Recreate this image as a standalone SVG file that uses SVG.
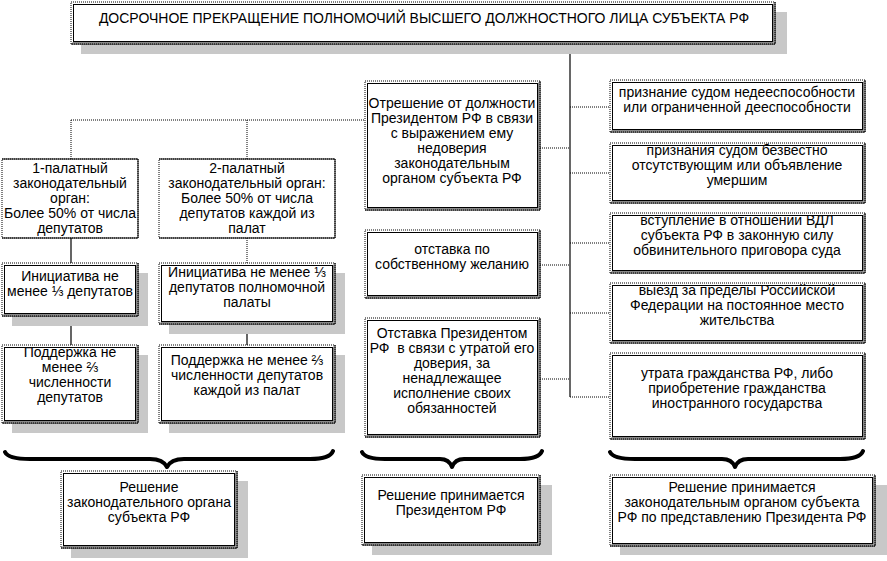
<svg xmlns="http://www.w3.org/2000/svg" width="887" height="561" viewBox="0 0 887 561">
<style>
text{font-family:"Liberation Sans",Arial,sans-serif;font-size:14px;fill:#000;text-anchor:middle}
.sh{fill:#c8c8c8}
.bo{fill:#fff;stroke:#000;stroke-width:1;stroke-dasharray:1 1}
.bi{fill:none;stroke:#000;stroke-width:1}
.rb{fill:none;stroke:#000;stroke-width:1}
.rg{fill:none;stroke:#888;stroke-width:1}
.dot{fill:none;stroke:#000;stroke-width:1;stroke-dasharray:1 1}
.sol{fill:none;stroke:#000;stroke-width:1.2}
.brace{fill:none;stroke:#000;stroke-width:4;stroke-linecap:round;stroke-linejoin:round}
</style>
<rect width="887" height="561" fill="#fff"/>

<g id="connectors">
<path class="sol" d="M570,44V397"/>
<path class="dot" d="M570,107H610M570,173H610M570,243H610M570,313H610M570,397H610"/>
<path class="dot" d="M540,148H570M540,265H570M540,379H570"/>
<path class="dot" d="M71,120H365M71,120V159M247,120V159"/>
<path class="sol" d="M71,238V263M71,316V345M247,324V345"/>
<path class="dot" d="M247,238V263"/>
</g>

<g id="braces">
<path class="brace" d="M5,452Q8,459 30,459L150,459Q163,459 167,467Q171,459 184,459L310,459Q330,459 333,451"/>
<path class="brace" d="M362,452Q365,459 385,459L440,459Q449,459 452,467Q455,459 464,459L520,459Q539,459 542,451"/>
<path class="brace" d="M610,452Q613,459 635,459L722,459Q732,459 735,467Q738,459 748,459L840,459Q860,459 863,451"/>
</g>

<g id="title">
<rect class="sh" x="81" y="12" width="706" height="42"/>
<rect class="bo" x="71" y="2" width="704" height="42"/>
<path class="rb" d="M775,2V44H71"/>
<path class="rg" d="M773.5,3.5V42.5H72.5"/>
<rect class="bi" x="73.5" y="4.5" width="699" height="37"/>
<text x="424" y="23">ДОСРОЧНОЕ ПРЕКРАЩЕНИЕ ПОЛНОМОЧИЙ ВЫСШЕГО ДОЛЖНОСТНОГО ЛИЦА СУБЪЕКТА РФ</text>
</g>

<g id="one-chamber">
<rect class="bo" x="2" y="159" width="136" height="79"/>
<path class="rb" d="M2,159H138V238H2"/>
<text x="70" y="173">1-палатный</text>
<text x="70" y="188">законодательный</text>
<text x="70" y="203">орган:</text>
<text x="70" y="218">Более 50% от числа</text>
<text x="70" y="233">депутатов</text>
</g>

<g id="two-chamber">
<rect class="bo" x="159" y="159" width="176" height="79"/>
<path class="rb" d="M159,159H335V238H159"/>
<text x="247" y="173">2-палатный</text>
<text x="247" y="188">законодательный орган:</text>
<text x="247" y="203">Более 50% от числа</text>
<text x="247" y="218">депутатов каждой из</text>
<text x="247" y="233">палат</text>
</g>

<g id="initiative-1">
<rect class="sh" x="12" y="273" width="136" height="53"/>
<rect class="bo" x="2" y="263" width="136" height="53"/>
<path class="rb" d="M138,263V316H2"/>
<path class="rg" d="M136.5,264.5V314.5H3.5"/>
<rect class="bi" x="4.5" y="265.5" width="131" height="48"/>
<text x="70" y="281">Инициатива не</text>
<text x="70" y="296">менее ⅓ депутатов</text>
</g>

<g id="initiative-2">
<rect class="sh" x="169" y="273" width="176" height="61"/>
<rect class="bo" x="159" y="263" width="176" height="61"/>
<path class="rb" d="M335,263V324H159"/>
<path class="rg" d="M333.5,264.5V322.5H160.5"/>
<rect class="bi" x="161.5" y="265.5" width="171" height="56"/>
<text x="247" y="277">Инициатива не менее ⅓</text>
<text x="247" y="292">депутатов полномочной</text>
<text x="247" y="307">палаты</text>
</g>

<g id="support-1">
<rect class="sh" x="12" y="355" width="136" height="78"/>
<rect class="bo" x="2" y="345" width="136" height="78"/>
<path class="rb" d="M138,345V423H2"/>
<path class="rg" d="M136.5,346.5V421.5H3.5"/>
<rect class="bi" x="4.5" y="347.5" width="131" height="73"/>
<text x="70" y="357">Поддержка не</text>
<text x="70" y="372">менее ⅔</text>
<text x="70" y="387">численности</text>
<text x="70" y="402">депутатов</text>
</g>

<g id="support-2">
<rect class="sh" x="169" y="355" width="176" height="78"/>
<rect class="bo" x="159" y="345" width="176" height="78"/>
<path class="rb" d="M335,345V423H159"/>
<path class="rg" d="M333.5,346.5V421.5H160.5"/>
<rect class="bi" x="161.5" y="347.5" width="171" height="73"/>
<text x="247" y="365">Поддержка не менее ⅔</text>
<text x="247" y="380">численности депутатов</text>
<text x="247" y="395">каждой из палат</text>
</g>

<g id="removal">
<rect class="bo" x="365" y="81" width="175" height="129"/>
<path class="rb" d="M540,81V210H365"/>
<path class="rg" d="M538.5,82.5V208.5H366.5"/>
<rect class="bi" x="367.5" y="83.5" width="170" height="124"/>
<text x="452" y="108">Отрешение от должности</text>
<text x="452" y="123">Президентом РФ в связи</text>
<text x="452" y="138">с выражением ему</text>
<text x="452" y="153">недоверия</text>
<text x="452" y="168">законодательным</text>
<text x="452" y="183">органом субъекта РФ</text>
</g>

<g id="resignation">
<rect class="bo" x="365" y="230" width="175" height="68"/>
<path class="rb" d="M540,230V298H365"/>
<path class="rg" d="M538.5,231.5V296.5H366.5"/>
<rect class="bi" x="367.5" y="232.5" width="170" height="63"/>
<text x="452" y="254">отставка по</text>
<text x="452" y="269">собственному желанию</text>
</g>

<g id="dismissal">
<rect class="bo" x="365" y="318" width="175" height="119"/>
<path class="rb" d="M540,318V437H365"/>
<path class="rg" d="M538.5,319.5V435.5H366.5"/>
<rect class="bi" x="367.5" y="320.5" width="170" height="114"/>
<text x="452" y="338">Отставка Президентом</text>
<text x="452" y="353" xml:space="preserve">РФ  в связи с утратой его</text>
<text x="452" y="368">доверия, за</text>
<text x="452" y="383">ненадлежащее</text>
<text x="452" y="398">исполнение своих</text>
<text x="452" y="413">обязанностей</text>
</g>

<g id="incapacity">
<rect class="bo" x="610" y="80" width="255" height="52"/>
<path class="rb" d="M865,80V132H610"/>
<path class="rg" d="M863.5,81.5V130.5H611.5"/>
<rect class="bi" x="612.5" y="82.5" width="250" height="47"/>
<text x="737" y="97">признание судом недееспособности</text>
<text x="737" y="112">или ограниченной дееспособности</text>
</g>

<g id="missing">
<rect class="bo" x="610" y="143" width="255" height="60"/>
<path class="rb" d="M865,143V203H610"/>
<path class="rg" d="M863.5,144.5V201.5H611.5"/>
<rect class="bi" x="612.5" y="145.5" width="250" height="55"/>
<text x="737" y="155">признания судом безвестно</text>
<text x="737" y="170">отсутствующим или объявление</text>
<text x="737" y="185">умершим</text>
</g>

<g id="conviction">
<rect class="bo" x="610" y="213" width="255" height="60"/>
<path class="rb" d="M865,213V273H610"/>
<path class="rg" d="M863.5,214.5V271.5H611.5"/>
<rect class="bi" x="612.5" y="215.5" width="250" height="55"/>
<text x="737" y="225">вступление в отношении ВДЛ</text>
<text x="737" y="240">субъекта РФ в законную силу</text>
<text x="737" y="255">обвинительного приговора суда</text>
</g>

<g id="departure">
<rect class="bo" x="610" y="283" width="255" height="60"/>
<path class="rb" d="M865,283V343H610"/>
<path class="rg" d="M863.5,284.5V341.5H611.5"/>
<rect class="bi" x="612.5" y="285.5" width="250" height="55"/>
<text x="737" y="295">выезд за пределы Российской</text>
<text x="737" y="310">Федерации на постоянное место</text>
<text x="737" y="325">жительства</text>
</g>

<g id="citizenship">
<rect class="bo" x="610" y="353" width="255" height="86"/>
<path class="rb" d="M865,353V439H610"/>
<path class="rg" d="M863.5,354.5V437.5H611.5"/>
<rect class="bi" x="612.5" y="355.5" width="250" height="81"/>
<text x="737" y="378">утрата гражданства РФ, либо</text>
<text x="737" y="393">приобретение гражданства</text>
<text x="737" y="408">иностранного государства</text>
</g>

<g id="decision-legislature">
<rect class="sh" x="71" y="481" width="177" height="77"/>
<rect class="bo" x="61" y="471" width="176" height="77"/>
<path class="rb" d="M237,471V548H61"/>
<path class="rg" d="M235.5,472.5V546.5H62.5"/>
<rect class="bi" x="63.5" y="473.5" width="171" height="72"/>
<text x="149" y="492">Решение</text>
<text x="149" y="507">законодательного органа</text>
<text x="149" y="522">субъекта РФ</text>
</g>

<g id="decision-president">
<rect class="sh" x="372" y="485" width="180" height="70"/>
<rect class="bo" x="362" y="475" width="178" height="70"/>
<path class="rb" d="M540,475V545H362"/>
<path class="rg" d="M538.5,476.5V543.5H363.5"/>
<rect class="bi" x="364.5" y="477.5" width="173" height="65"/>
<text x="451" y="500">Решение принимается</text>
<text x="451" y="515">Президентом РФ</text>
</g>

<g id="decision-legislature-president">
<rect class="sh" x="620" y="485" width="267" height="70"/>
<rect class="bo" x="610" y="475" width="265" height="71"/>
<path class="rb" d="M875,475V546H610"/>
<path class="rg" d="M873.5,476.5V544.5H611.5"/>
<rect class="bi" x="612.5" y="477.5" width="260" height="66"/>
<text x="742" y="492">Решение принимается</text>
<text x="742" y="507">законодательным органом субъекта</text>
<text x="742" y="522">РФ по представлению Президента РФ</text>
</g>
</svg>
